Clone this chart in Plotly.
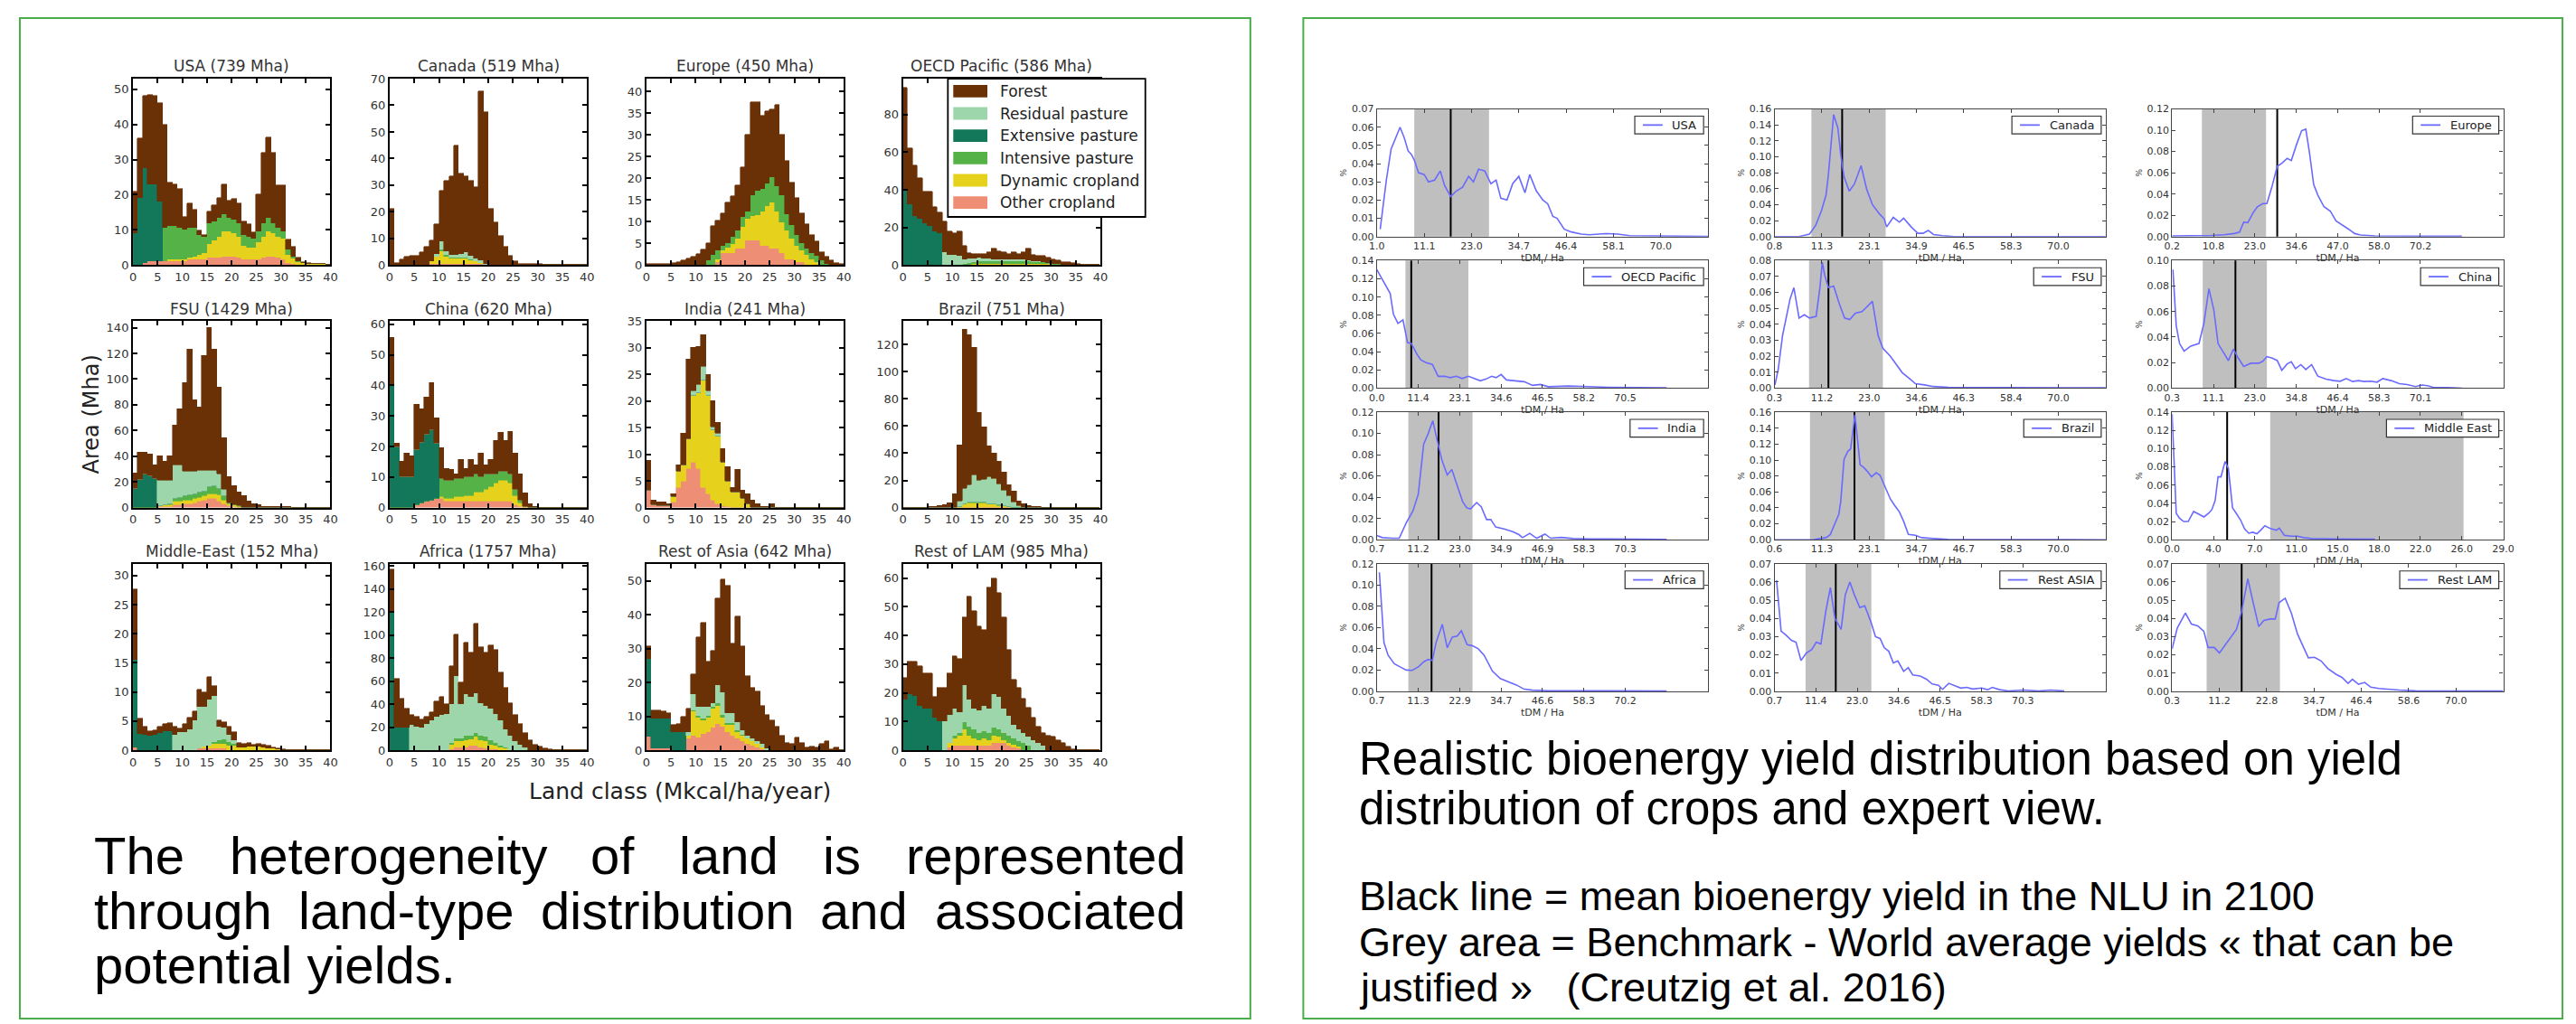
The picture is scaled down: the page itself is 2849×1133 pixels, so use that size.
import plotly.graph_objects as go

W, H = 2849, 1133


def pad(start, vals, n=40):
    out = [0.0] * start + list(vals)
    return (out + [0.0] * n)[:n]


# ------------------------------------------------------------------
# LEFT PANEL DATA : area (Mha) per land class (1 Mkcal/ha/year bins)
# ------------------------------------------------------------------
land_classes = list(range(40))  # lower edge of each class
left_titles = ["USA (739 Mha)", "Canada (519 Mha)", "Europe (450 Mha)", "OECD Pacific (586 Mha)",
               "FSU (1429 Mha)", "China (620 Mha)", "India (241 Mha)", "Brazil (751 Mha)",
               "Middle-East (152 Mha)", "Africa (1757 Mha)", "Rest of Asia (642 Mha)", "Rest of LAM (985 Mha)"]
left_ymax = [53, 70, 43, 99, 145, 61, 35, 137, 32, 162, 55, 65]
left_ydtick = [10, 10, 5, 20, 20, 10, 5, 20, 5, 20, 10, 10]
left_xticks = [0, 5, 10, 15, 20, 25, 30, 35, 40]

category_names = ["Forest", "Residual pasture", "Extensive pasture",
                  "Intensive pasture", "Dynamic cropland", "Other cropland"]
category_colors = ["#6b3106", "#9dd6ab", "#13775a", "#55b246", "#e6d21c", "#ee8f75"]

# totals (top of the stack) and the lower land types; forest = remainder
usa_total = [21, 36, 48, 48.5, 48, 46, 40, 23.4, 23, 21.7, 13.6, 17.6, 15.8, 9.8, 8.5, 15.3, 17, 19.2, 23, 18.3,
             18.7, 17.5, 12.4, 11.5, 9.4, 20, 32, 36.2, 32, 22.6, 22.6, 7.2, 5.1, 2.1, 0.9, 0.6, 0.4, 0.4, 0.4, 0]
usa_residual = pad(0, [])
usa_extensive = pad(0, [9, 19, 27, 22, 22, 17])
usa_intensive = pad(6, [9.5, 9.5, 9.5, 9, 8.5, 8.5, 8, 5.5, 4.5, 6, 5.5, 5.5, 5, 4, 4, 4, 3, 3, 2.5, 3, 4, 4, 3,
                        2.5, 2, 1.5, 0.5, 0.3])
usa_dynamic = pad(7, [0.5, 0.5, 0.5, 0.5, 0.5, 1, 1.5, 2, 4, 5, 6, 7, 7, 6.5, 6, 4, 3.5, 3.5, 5, 6, 7, 6.5, 6, 6,
                      2.5, 1.5, 0.8, 0.5, 0.3, 0.2, 0.2, 0.2])
usa_other = pad(2, [0.5, 1, 1, 1, 1, 1, 1, 1, 1, 1.5, 1.5, 1.5, 1.5, 2, 2, 2, 2.5, 2.5, 2.5, 2, 1.5, 1.5, 1.5, 1.5,
                    2, 2.5, 2.5, 2, 1.5, 0.5, 0.3])

canada_total = [21, 0.8, 2, 3, 3.6, 3.6, 4.7, 7, 9.2, 15.4, 27.8, 31.7, 33.4, 45, 34.5, 33.4, 31.7, 29.4, 65.4, 57.5,
                21, 16, 10.9, 7, 3.6, 1.3, 0.5, 0.5, 0.5, 0.5, 0.5, 0.2, 0.2, 0.2, 0.2, 0.1, 0.1, 0.1, 0.1, 0.1]
canada_residual = pad(9, [1, 3, 1.5, 1, 1, 1.5, 2, 1.5, 1, 1, 0.5])
canada_extensive = pad(0, [])
canada_intensive = pad(10, [0.5, 0.5, 0.5, 0.5, 0.5, 0.5, 0.3])
canada_dynamic = pad(8, [1, 3, 5, 3, 2, 2, 2, 2, 1.5, 1, 0.5])
canada_other = pad(8, [0.3, 0.3, 0.3, 0.3, 0.3, 0.3, 0.3, 0.3, 0.3, 0.3, 0.3])

europe_total = [0.3, 0.3, 0.3, 0.3, 0.3, 0.5, 0.7, 1, 1.5, 2, 2.5, 3.5, 5, 9, 10.3, 12, 14.5, 16, 18.5, 22.5,
                30, 37.5, 37.5, 34.5, 35.5, 36, 37, 30, 24, 19, 15.5, 12, 9.5, 7, 5.5, 3, 2, 1, 0.5, 0.3]
europe_residual = pad(0, [])
europe_extensive = pad(0, [])
europe_intensive = pad(12, [1, 2.4, 2.0, 1.1, 1.1, 1.7, 1.7, 2.1, 1.7, 4.8, 5.6, 5.2, 5.2, 5.8, 5.9, 6.2, 3.8, 3.1,
                            2.4, 1.7, 1.4, 1.3, 1.4, 1, 0.3])
europe_dynamic = pad(14, [0.7, 0.7, 1.3, 2.1, 2.4, 5.1, 4.9, 5.6, 5.8, 7.8, 9.2, 10.6, 8.5, 7.2, 6.5, 4.8, 3.8, 2.7,
                          2.4, 1.4, 0.7])
europe_other = pad(14, [0.7, 2.7, 2.7, 2.7, 3.8, 3.8, 5.7, 5.7, 5.7, 4.5, 4.5, 3.8, 3.8, 2.7, 1.4, 1.4, 0.7, 0.7])

oecd_total = [94.4, 62, 53, 46, 39, 39, 31, 28, 23, 18, 16.7, 18, 10.3, 6.3, 5.9, 5.9, 5.9, 6.8, 8.7, 7.5,
              6.8, 5.9, 6.8, 5.9, 6.8, 8.7, 5.6, 4.8, 4.8, 4, 3.2, 2.4, 1.6, 1.6, 1.1, 0.8, 0.3, 0.3, 0.3, 0.3]
oecd_residual = pad(8, [7, 5.6, 5.6, 4.8, 2.4, 2.4, 2, 2, 1.5, 1.5, 1, 1, 1, 1, 1, 1, 1, 0.8, 0.5, 0.5])
oecd_extensive = pad(0, [39.7, 32.5, 26, 24.6, 22, 20.6, 18, 16.7])
oecd_intensive = pad(12, [0.5, 0.8, 1, 1.2, 1.2, 1.2, 1.5, 1.5, 1.5, 1.5, 1.5, 1.5, 1.5, 1.2, 1, 1, 0.8, 0.6, 0.4,
                          0.3])
oecd_dynamic = pad(14, [0.3] * 16)
oecd_other = pad(12, [0.3] * 20)

fsu_total = [27, 43, 43, 42, 33, 40, 36, 40, 64, 77, 97, 123, 84, 78, 118, 140, 123, 94, 54, 24,
             17, 12, 9, 5, 3, 2, 1.2, 1.2, 1.2, 0.6, 0.6, 0.6, 0.2, 0.2, 0.2, 0.2, 0.2, 0.2, 0.2, 0.2]
fsu_residual = pad(5, [19.5, 19, 18, 26, 25, 19, 18, 17, 17, 16, 13, 12, 11, 5])
fsu_extensive = pad(0, [15, 22, 26, 25, 22])
fsu_intensive = pad(7, [1, 2, 3, 3, 4, 4, 4, 4, 5, 6, 5, 3, 1, 0.5, 0.5])
fsu_dynamic = pad(5, [0.5, 1, 1, 3, 3, 3, 3, 3, 3, 3, 4, 4, 5, 3, 1.5, 1, 0.5])
fsu_other = pad(4, [0.5, 1, 1, 1, 2, 2, 3, 3, 4, 5, 6, 7, 7, 5, 3, 1.5, 1, 0.5])

china_total = [55.6, 21.2, 15.3, 17.8, 16.8, 33.8, 32.3, 36.2, 41, 29.4, 19.7, 12.9, 12.4, 11, 15.8, 12.9, 15.8,
               13.9, 17.8, 13.9, 15.8, 22.1, 24.6, 22.1, 25, 17.8, 11, 4.7, 1.3, 0.5,
               0.1, 0.1, 0.1, 0.1, 0.1, 0.1, 0.1, 0.1, 0.1, 0.1]
china_residual = pad(0, [])
china_extensive = pad(0, [40, 20, 10, 10, 10, 18, 20, 22, 23, 18])
china_intensive = pad(10, [6, 6, 6, 6, 6, 6, 6, 6, 5, 5, 4, 3, 3, 3, 3, 2, 1])
china_dynamic = pad(10, [0.5, 1, 1, 1.5, 1.5, 2, 2, 3, 3, 4, 5, 6, 7, 7, 6, 3, 1, 0.5])
china_other = pad(5, [1, 1.5, 2, 2.5, 3, 3, 2, 2, 2, 2, 2, 2, 2, 2, 2, 2, 2, 2, 2, 2, 1, 0.5])

india_total = pad(0, [8.9, 1.4, 1.1, 1.1, 0.8, 2.6, 8, 14, 27.9, 30, 30.3, 32.5, 25, 20, 16, 11, 7.6, 3.8, 7.2,
                      3.2, 2.6, 1.4, 0.8, 0.2, 0.2, 0.8])
india_residual = pad(9, [1, 1.5, 2.5, 1, 0.5, 0.5])
india_extensive = pad(0, [])
india_intensive = pad(0, [])
india_dynamic = pad(5, [1, 3, 3, 5.6, 12.4, 14.2, 20.2, 18.4, 13.2, 12.6, 8.2, 4.8, 3, 2.9, 1.7, 0.8])
india_other = pad(0, [3.2, 0.5, 0.3, 0.3, 0.3, 1, 3.8, 5, 7.4, 8.6, 7.4, 3.8, 2.6, 1.4, 0.8, 0.4, 0.2])

brazil_total = [0.4, 0.4, 0.4, 0.4, 0.4, 0.7, 1, 1.3, 2, 3.5, 10, 46, 131, 127, 118, 70, 59, 45, 40, 34,
                26, 17, 12, 5, 2.5, 1.5, 0.8, 0.5, 0.2, 0.2, 0.2, 0.2, 0.2, 0.2, 0.2, 0.2, 0.2, 0.2, 0.2, 0.2]
brazil_residual = pad(11, [3.9, 10.8, 12.9, 20, 15.9, 16.7, 19.5, 18.5, 15.7, 11.2, 7.5, 3.6, 1.5])
brazil_extensive = pad(0, [])
brazil_intensive = pad(11, [0.3, 0.5, 0.5, 0.5, 0.5, 0.5, 0.5, 0.5, 0.5, 0.3, 0.3])
brazil_dynamic = pad(11, [0.5, 2.2, 3.3, 3.3, 3.3, 3.3, 2.2, 2.2, 1.2, 1.2, 0.5])
brazil_other = pad(11, [0.3] * 12)

me_total = pad(0, [27.7, 5.4, 4.1, 3.3, 3.5, 4.1, 4.6, 4.7, 4.1, 3.8, 4.6, 5.6, 6.7, 10.5, 10, 12.6, 11, 5.1, 4.9,
                   4.1, 3.1, 1.3, 1.1, 1.3, 1, 1.1, 1, 0.8, 0.5, 0.3, 0.2, 0.1])
me_residual = pad(8, [2.6, 3.1, 3.1, 3.6, 5.1, 7.2, 6.9, 7.9, 7.9, 2.4, 2.0, 1.3, 0.7])
me_extensive = pad(0, [15, 2.8, 2.6, 2.5, 2.7, 3, 3.3, 3.3])
me_intensive = pad(16, [0.3, 0.6, 0.8, 0.6, 0.3])
me_dynamic = pad(14, [0.3, 0.5, 0.8, 0.8, 0.8, 0.8, 0.8, 0.5, 0.5, 0.6, 0.6, 0.6, 0.5, 0.4, 0.3, 0.2, 0.1])
me_other = pad(0, [0.5, 0, 0, 0, 0, 0, 0, 0, 0, 0, 0, 0, 0, 0.3, 0.3, 0.3, 0.3, 0.3, 0.3])

africa_total = [157, 62, 45, 36, 31, 29, 27, 29, 33.5, 42.6, 46.5, 40, 73.5, 100.6, 59, 94, 85, 110, 90, 85,
                91.6, 87.7, 68, 54, 41, 31, 23, 15.5, 9, 5.2, 3, 2, 1.3, 0.5, 0.2, 0.2, 0.2, 0.2, 0.2, 0.2]
africa_residual = pad(4, [21.5, 20.1, 19.5, 22.5, 25.3, 28.5, 30.5, 31.5, 33.5, 54.2, 29.7, 36, 33.5, 34.5, 28,
                          27.1, 27, 25.5, 21.9, 15.4, 12.5, 7.7, 5.2, 2.6])
africa_extensive = pad(0, [120, 20, 20, 20])
africa_intensive = pad(12, [1.3, 2.6, 2.6, 4, 3.5, 3.9, 4, 3.9, 3.8, 2.6, 1.3, 1.1])
africa_dynamic = pad(4, [0.5, 0.5, 0.5, 0.5, 0.5, 0.5, 0.5, 0.5, 4.2, 5.1, 5.1, 6.4, 5.6, 7.7, 6.4, 5.7, 3.9, 3.1,
                         2.1, 1.5, 0.5])
africa_other = pad(12, [1, 2.6, 2.6, 2.6, 3.9, 3.9, 2.6, 2, 1.3, 0.8, 0.5])

rasia_total = [30.7, 11.8, 11.8, 11.4, 11, 7.5, 7.9, 10, 12.3, 22.4, 33.3, 37.7, 26.3, 29.4, 45, 50.4, 48.7, 31.6,
               39.5, 30.7, 21.9, 18.4, 17.5, 13.2, 10.5, 8.8, 7, 4.4, 2.2, 1.8, 3.9, 2.2, 0.9, 1, 0.9, 1.8, 2.6,
               0.4, 0.9, 0]
rasia_residual = pad(8, [0.9, 4.8, 2.7, 3.5, 2.7, 1, 5.2, 6.6, 3, 3, 2.6, 1.3, 0.9, 0.9, 0.8, 0.9, 0.5])
rasia_extensive = pad(0, [23, 9, 9, 9, 9, 5.3, 5.3, 5.3])
rasia_intensive = pad(9, [0.5, 0.5, 0.5, 0.5, 0.5, 0.8, 0.8, 0.5, 0.5, 0.5, 0.3])
rasia_dynamic = pad(8, [0.9, 7, 5.7, 4, 4.3, 5.7, 5.3, 2.6, 2.2, 3.1, 1.8, 1.8, 1.7, 1.3, 0.9, 0.5])
rasia_other = pad(0, [4, 0.5, 0.5, 0.5, 0.5, 0, 0, 0, 3.5, 4.4, 3.9, 4.8, 5.3, 6.6, 7.9, 7, 5.3, 4.4, 3.5, 2.6,
                      1.8, 1.3, 0.9, 0.4])

rlam_total = [25.3, 31, 31, 29.5, 26.9, 26.9, 18.6, 21.7, 21.7, 27, 33, 32, 46.5, 53.8, 48.6, 43.4, 41.9, 56.9,
              60, 54.8, 46.5, 35.2, 24.8, 21.7, 18.1, 15, 11.4, 8.3, 6.2, 5.2, 4.7, 3.6, 2.6, 1.2, 0.5,
              0.2, 0.2, 0.2, 0.2, 0.2]
rlam_residual = pad(8, [10.3, 9.8, 9.3, 7.2, 13, 9.3, 7.3, 7.8, 8.8, 8.3, 11.8, 11.4, 8.3, 6.7, 4.7, 4.1, 3.6,
                        3.1, 3.6, 2.6, 1.6])
rlam_extensive = pad(0, [17.6, 19.6, 19.1, 15.5, 14.5, 14.5, 11.4, 10.3])
rlam_intensive = pad(10, [1.1, 1, 2.6, 3.1, 3.1, 2.6, 2.6, 2.6, 2.6, 2.5, 2.6, 2.6, 2, 1.9, 2.6, 1.6])
rlam_dynamic = pad(9, [1.6, 2.5, 3.6, 5.6, 3.6, 2.5, 2, 2.5, 2, 2.6, 2.1, 1, 1, 1.1, 0.6])
rlam_other = pad(9, [1, 1.6, 1.6, 1.6, 1.6, 1.6, 1.6, 1.6, 1.6, 2.6, 2.6, 2.6, 1.6, 1, 0.6])

left_regions = [
    (usa_total, usa_residual, usa_extensive, usa_intensive, usa_dynamic, usa_other),
    (canada_total, canada_residual, canada_extensive, canada_intensive, canada_dynamic, canada_other),
    (europe_total, europe_residual, europe_extensive, europe_intensive, europe_dynamic, europe_other),
    (oecd_total, oecd_residual, oecd_extensive, oecd_intensive, oecd_dynamic, oecd_other),
    (fsu_total, fsu_residual, fsu_extensive, fsu_intensive, fsu_dynamic, fsu_other),
    (china_total, china_residual, china_extensive, china_intensive, china_dynamic, china_other),
    (india_total, india_residual, india_extensive, india_intensive, india_dynamic, india_other),
    (brazil_total, brazil_residual, brazil_extensive, brazil_intensive, brazil_dynamic, brazil_other),
    (me_total, me_residual, me_extensive, me_intensive, me_dynamic, me_other),
    (africa_total, africa_residual, africa_extensive, africa_intensive, africa_dynamic, africa_other),
    (rasia_total, rasia_residual, rasia_extensive, rasia_intensive, rasia_dynamic, rasia_other),
    (rlam_total, rlam_residual, rlam_extensive, rlam_intensive, rlam_dynamic, rlam_other),
]

# ------------------------------------------------------------------
# RIGHT PANEL DATA : yield distributions (x = position in bins, 10 bins per tick)
# ------------------------------------------------------------------
right_names = ["USA", "Canada", "Europe", "OECD Pacific", "FSU", "China",
               "India", "Brazil", "Middle East", "Africa", "Rest ASIA", "Rest LAM"]
right_xmax = [70, 70, 80, 80, 70, 80, 80, 70, 80, 80, 80, 70]
right_ymax = [0.07, 0.16, 0.12, 0.14, 0.08, 0.10, 0.12, 0.16, 0.14, 0.12, 0.07, 0.07]
right_ydtick = [0.01, 0.02, 0.02, 0.02, 0.01, 0.02, 0.02, 0.02, 0.02, 0.02, 0.01, 0.01]
right_xlabels = [
    ["1.0", "11.1", "23.0", "34.7", "46.4", "58.1", "70.0"],
    ["0.8", "11.3", "23.1", "34.9", "46.5", "58.3", "70.0"],
    ["0.2", "10.8", "23.0", "34.6", "47.0", "58.0", "70.2"],
    ["0.0", "11.4", "23.1", "34.6", "46.5", "58.2", "70.5"],
    ["0.3", "11.2", "23.0", "34.6", "46.3", "58.4", "70.0"],
    ["0.3", "11.1", "23.0", "34.8", "46.4", "58.3", "70.1"],
    ["0.7", "11.2", "23.0", "34.9", "46.9", "58.3", "70.3"],
    ["0.6", "11.3", "23.1", "34.7", "46.7", "58.3", "70.0"],
    ["0.0", "4.0", "7.0", "11.0", "15.0", "18.0", "22.0", "26.0", "29.0"],
    ["0.7", "11.3", "22.9", "34.7", "46.6", "58.3", "70.2"],
    ["0.7", "11.4", "23.0", "34.6", "46.5", "58.3", "70.3"],
    ["0.3", "11.2", "22.8", "34.7", "46.4", "58.6", "70.0"],
]
grey_lo = [7.9, 7.8, 7.2, 6.9, 7.3, 7.4, 7.6, 7.5, 23.7, 7.6, 7.5, 7.3]
grey_hi = [23.7, 23.5, 22.7, 22.1, 22.9, 22.9, 23.1, 23.3, 70.4, 23.1, 23.4, 22.8]
mean_yield = [15.6, 14.3, 25.4, 8.3, 11.4, 15.3, 14.9, 16.9, 13.3, 13.2, 14.8, 14.7]

usa_x = [0.7, 2.0, 3.0, 3.9, 4.9, 5.8, 6.6, 7.3, 7.9, 8.8, 10.0, 10.9, 12.2, 13.4, 14.3, 15.6, 16.8, 18.1, 19.4,
         20.4, 21.5, 22.8, 24.1, 25.2, 26.2, 27.5, 28.7, 30.0, 31.3, 32.3, 33.7, 35.1, 36.1, 37.2, 38.1, 39.6,
         41.1, 43.2, 44.9, 48.3, 50.9, 53.4, 61.9, 70]
usa_y = [0.004, 0.031, 0.048, 0.054, 0.060, 0.054, 0.047, 0.045, 0.042, 0.035, 0.034, 0.030, 0.031, 0.036, 0.028,
         0.022, 0.025, 0.027, 0.033, 0.030, 0.037, 0.036, 0.029, 0.031, 0.021, 0.020, 0.029, 0.033, 0.024, 0.034,
         0.025, 0.020, 0.018, 0.011, 0.010, 0.004, 0.0025, 0.0013, 0.001, 0.0016, 0.0013, 0.0005, 0.0003, 0.0001]
canada_x = [0, 5.2, 7.4, 8.7, 9.9, 10.9, 11.4, 11.8, 12.5, 13.4, 14.0, 14.7, 15.8, 16.9, 18.3, 19.5, 20.7, 22.1,
            23.2, 23.7, 25.1, 26.4, 27.3, 28.9, 30.3, 31.4, 32.5, 33.6, 35.5, 38.1, 70]
canada_y = [0, 0, 0.003, 0.014, 0.032, 0.052, 0.078, 0.103, 0.153, 0.136, 0.103, 0.075, 0.057, 0.066, 0.089,
            0.059, 0.040, 0.029, 0.022, 0.012, 0.024, 0.018, 0.023, 0.012, 0.004, 0.004, 0.0076, 0.0025, 0.001,
            0, 0]
europe_x = [0, 4.7, 9.6, 12.6, 15.0, 16.3, 17.3, 18.3, 19.5, 20.6, 21.9, 22.9, 24.2, 25.4, 26.5, 27.8, 28.8,
            30.1, 31.3, 32.3, 33.2, 34.2, 35.2, 36.7, 38.2, 39.6, 41.1, 42.6, 44.1, 45.5, 49.0, 58.8, 70]
europe_y = [0.0006, 0.0006, 0.001, 0.0017, 0.0028, 0.0042, 0.0135, 0.013, 0.022, 0.028, 0.031, 0.031, 0.048,
            0.066, 0.069, 0.0735, 0.0715, 0.087, 0.0996, 0.101, 0.0785, 0.049, 0.039, 0.028, 0.024, 0.0146,
            0.011, 0.007, 0.0028, 0.0014, 0.0006, 0.0003, 0.0003]
oecd_x = [0, 1.0, 2.2, 3.2, 4.0, 5.1, 6.3, 7.4, 8.3, 9.0, 9.7, 10.6, 11.9, 13.4, 14.8, 16.3, 17.7, 19.2, 20.6,
          22.1, 23.5, 25.0, 26.4, 27.7, 28.8, 30.0, 31.3, 33.2, 35.6, 37.6, 39.5, 41.4, 46.3, 51.1, 56.0, 70]
oecd_y = [0.130, 0.122, 0.112, 0.104, 0.081, 0.071, 0.075, 0.050, 0.049, 0.043, 0.037, 0.031, 0.028, 0.026,
          0.013, 0.013, 0.0115, 0.013, 0.0105, 0.013, 0.0105, 0.008, 0.010, 0.013, 0.0115, 0.015, 0.009, 0.008,
          0.007, 0.003, 0.004, 0.0016, 0.0023, 0.0016, 0.001, 0.0003]
fsu_x = [0.1, 0.8, 1.7, 2.7, 3.3, 4.1, 5.2, 6.3, 7.4, 8.8, 9.6, 10.1, 10.6, 11.4, 12.5, 13.7, 14.8, 15.9, 17.1,
         18.5, 19.6, 20.7, 21.9, 22.9, 24.5, 25.7, 27.0, 28.3, 29.8, 31.7, 33.6, 36.8, 70]
fsu_y = [0.002, 0.012, 0.033, 0.047, 0.056, 0.063, 0.044, 0.046, 0.044, 0.045, 0.063, 0.079, 0.071, 0.063, 0.064,
         0.053, 0.044, 0.043, 0.047, 0.048, 0.051, 0.0545, 0.033, 0.025, 0.020, 0.0148, 0.0097, 0.0066, 0.0028,
         0.002, 0.001, 0.0005, 0.0002]
china_x = [0.2, 1.0, 1.8, 2.9, 4.5, 6.5, 7.7, 8.9, 10.1, 11.1, 12.4, 13.6, 14.8, 16.0, 17.3, 19.0, 20.9, 21.9,
           22.9, 24.2, 25.4, 26.5, 27.8, 28.8, 29.8, 31.1, 32.3, 33.7, 35.2, 37.2, 39.1, 40.6, 42.1, 43.6, 45.0,
           46.5, 48.0, 49.5, 50.9, 52.9, 54.9, 56.8, 58.8, 60.3, 61.7, 63.2, 66.7, 70.1]
china_y = [0.093, 0.049, 0.035, 0.029, 0.033, 0.035, 0.051, 0.078, 0.061, 0.035, 0.028, 0.0216, 0.0306, 0.0235,
           0.017, 0.0195, 0.0195, 0.021, 0.0247, 0.0235, 0.0216, 0.014, 0.019, 0.0207, 0.0153, 0.0184, 0.0146,
           0.0184, 0.0094, 0.007, 0.0059, 0.0054, 0.0075, 0.0052, 0.0059, 0.0052, 0.0054, 0.0047, 0.0075,
           0.0059, 0.0035, 0.0028, 0.0012, 0.0024, 0.0019, 0.0005, 0.0005, 0]
india_x = [0, 1.3, 3.7, 5.4, 7.1, 8.7, 10.0, 11.3, 12.4, 13.5, 14.6, 15.7, 17.0, 18.1, 19.4, 20.7, 21.7, 22.6,
           24.1, 25.2, 26.5, 27.5, 28.7, 30.9, 32.8, 34.3, 35.2, 36.9, 38.6, 40.6, 42.0, 44.5, 47.4, 51.3, 70]
india_y = [0.004, 0.002, 0.0014, 0.0014, 0.016, 0.027, 0.043, 0.090, 0.100, 0.112, 0.093, 0.075, 0.061, 0.066,
           0.051, 0.036, 0.030, 0.029, 0.035, 0.031, 0.019, 0.019, 0.012, 0.010, 0.0076, 0.0048, 0.002, 0.006,
           0.0014, 0.0053, 0.0014, 0.0022, 0.0011, 0.0008, 0.0003]
brazil_x = [0, 8.3, 9.6, 10.9, 11.8, 12.6, 13.6, 14.0, 14.7, 15.5, 16.1, 17.0, 17.5, 18.1, 18.8, 19.6, 20.5,
            21.5, 22.3, 22.9, 23.8, 24.5, 25.4, 26.4, 27.3, 28.3, 29.8, 31.1, 33.6, 36.8, 70]
brazil_y = [0, 0.0001, 0.0015, 0.0026, 0.0066, 0.017, 0.032, 0.048, 0.101, 0.111, 0.114, 0.157, 0.129, 0.094,
            0.091, 0.086, 0.079, 0.084, 0.081, 0.073, 0.060, 0.051, 0.043, 0.035, 0.023, 0.0066, 0.0056, 0.0026,
            0.0015, 0.0005, 0]
me_x = [0, 0.5, 1.0, 1.8, 2.8, 3.9, 5.2, 6.5, 7.7, 8.8, 9.6, 10.4, 11.1, 11.8, 12.8, 13.6, 14.6, 15.5, 16.5,
        17.5, 18.5, 19.5, 20.5, 21.4, 22.4, 23.9, 25.2, 25.9, 27.1, 28.8, 30.3, 31.8, 33.7, 39.1, 49.0]
me_y = [0.138, 0.083, 0.029, 0.0236, 0.020, 0.020, 0.031, 0.028, 0.025, 0.029, 0.033, 0.043, 0.069, 0.069, 0.086,
        0.078, 0.035, 0.029, 0.022, 0.012, 0.0072, 0.0082, 0.0066, 0.0105, 0.0154, 0.012, 0.0105, 0.0128,
        0.0049, 0.0039, 0.0039, 0.0023, 0.0013, 0.001, 0.0007]
africa_x = [0.6, 1.7, 2.7, 4.2, 5.6, 7.1, 8.5, 10.0, 11.4, 12.4, 13.4, 14.3, 15.8, 17.0, 18.2, 19.4, 20.4, 21.8,
            23.0, 24.5, 25.9, 27.9, 29.8, 31.8, 33.7, 35.6, 37.6, 41.4, 70]
africa_y = [0.112, 0.046, 0.034, 0.026, 0.023, 0.020, 0.0197, 0.023, 0.028, 0.030, 0.029, 0.046, 0.063, 0.041,
            0.051, 0.052, 0.057, 0.044, 0.043, 0.040, 0.034, 0.019, 0.012, 0.009, 0.006, 0.002, 0.0011, 0.0006,
            0.0003]
rasia_x = [0.5, 1.6, 2.7, 4.1, 5.2, 6.4, 7.7, 9.0, 10.1, 11.2, 12.4, 13.5, 14.6, 16.1, 17.1, 18.2, 19.3, 20.6,
           21.8, 23.3, 24.4, 25.5, 26.5, 27.6, 28.7, 29.8, 31.2, 32.3, 33.4, 35.2, 36.7, 38.1, 39.6, 40.6, 42.1,
           43.5, 45.0, 46.4, 47.9, 50.0, 51.5, 52.6, 54.4, 56.5, 60.2, 63.8, 66.7, 70]
rasia_y = [0.061, 0.033, 0.031, 0.028, 0.027, 0.017, 0.021, 0.023, 0.027, 0.026, 0.044, 0.057, 0.040, 0.034,
           0.053, 0.060, 0.053, 0.046, 0.047, 0.038, 0.030, 0.029, 0.024, 0.022, 0.0156, 0.0167, 0.011, 0.013,
           0.009, 0.0084, 0.0067, 0.004, 0.0033, 0.0011, 0.0044, 0.0033, 0.0018, 0.0022, 0.0013, 0.0018, 0.0009,
           0.0022, 0.0009, 0.0002, 0.0007, 0.0002, 0.0007, 0.0002]
rlam_x = [0, 1.1, 2.8, 4.1, 5.4, 6.7, 7.6, 8.9, 10.0, 11.5, 12.6, 13.6, 14.7, 16.0, 17.0, 18.3, 19.4, 20.7, 21.8,
          22.6, 23.9, 25.2, 26.5, 27.8, 28.8, 30.1, 31.5, 32.9, 34.7, 35.9, 37.2, 38.1, 39.4, 40.7, 42.0, 43.7,
          45.4, 48.0, 51.4, 70]
rlam_y = [0.0233, 0.0348, 0.043, 0.0369, 0.036, 0.033, 0.0241, 0.0241, 0.0211, 0.0266, 0.0307, 0.034, 0.0438,
          0.0618, 0.0503, 0.0356, 0.0389, 0.0397, 0.0397, 0.0487, 0.0511, 0.043, 0.0315, 0.0241, 0.0184, 0.0187,
          0.0167, 0.0126, 0.0093, 0.0077, 0.0044, 0.0066, 0.0039, 0.0049, 0.0023, 0.0016, 0.0011, 0.0007,
          0.0003, 0.0002]

right_series = [(usa_x, usa_y), (canada_x, canada_y), (europe_x, europe_y), (oecd_x, oecd_y),
                (fsu_x, fsu_y), (china_x, china_y), (india_x, india_y), (brazil_x, brazil_y),
                (me_x, me_y), (africa_x, africa_y), (rasia_x, rasia_y), (rlam_x, rlam_y)]

# ------------------------------------------------------------------
# TEXT
# ------------------------------------------------------------------
left_text_lines = ["The heterogeneity of land is represented",
                   "through land-type distribution and associated",
                   "potential yields."]
right_text_big = ["Realistic bioenergy yield distribution based on yield",
                  "distribution of crops and expert view."]
right_text_small = ["Black line = mean bioenergy yield in the NLU in 2100",
                    "Grey area = Benchmark - World average yields « that can be",
                    "justified »\u00a0\u00a0\u00a0(Creutzig et al. 2016)"]

# ------------------------------------------------------------------
# LAYOUT (pixel geometry)
# ------------------------------------------------------------------
def X(px):
    return px / W


def Y(py):
    return 1 - py / H


L_cols, L_w = [131, 417, 703, 989], 220
L_rows, L_h = [73, 345, 617], 209
R_cols, R_w = [1517, 1960, 2403], 369
R_rows, R_h = [107, 277, 447, 617], 143

CHART_FONT = "DejaVu Sans"
TEXT_FONT = "Liberation Sans, Arial, sans-serif"

fig = go.Figure()
layout = {}
shapes = []
annotations = []


def axname(k):
    return ("xaxis" if k == 1 else f"xaxis{k}"), ("yaxis" if k == 1 else f"yaxis{k}"), \
           ("x" if k == 1 else f"x{k}"), ("y" if k == 1 else f"y{k}")


centers = [c + 0.5 for c in land_classes]

for i, reg in enumerate(left_regions):
    k = i + 1
    xa, ya, xr, yr = axname(k)
    r, c = divmod(i, 4)
    x0, y0 = L_cols[c], L_rows[r]
    total, residual, extensive, intensive, dynamic, other = reg
    forest = [max(t - (a + b + cc + d + e), 0) for t, a, b, cc, d, e in
              zip(total, residual, extensive, intensive, dynamic, other)]
    stack = [(other, 5), (dynamic, 4), (intensive, 3), (extensive, 2), (residual, 1), (forest, 0)]
    for vals, ci in stack:
        fig.add_trace(go.Bar(x=centers, y=vals, width=1, xaxis=xr, yaxis=yr,
                             marker=dict(color=category_colors[ci],
                                         line=dict(color=category_colors[ci], width=0.6)),
                             name=category_names[ci], showlegend=False, hoverinfo="skip"))
    ymax, dt = left_ymax[i], left_ydtick[i]
    yt = list(range(0, int(ymax) + 1, dt))
    layout[xa] = dict(domain=[X(x0), X(x0 + L_w)], anchor=yr, range=[0, 40], tickvals=left_xticks,
                      ticks="inside", ticklen=5, tickwidth=1.5, tickcolor="black", showline=True,
                      linecolor="black", linewidth=2, mirror="ticks", showgrid=False, zeroline=False,
                      tickfont=dict(family=CHART_FONT, size=13, color="#333"), fixedrange=True)
    layout[ya] = dict(domain=[Y(y0 + L_h), Y(y0)], anchor=xr, range=[0, ymax], tickvals=yt,
                      ticks="inside", ticklen=5, tickwidth=1.5, tickcolor="black", showline=True,
                      linecolor="black", linewidth=2, mirror="ticks", showgrid=False, zeroline=False,
                      tickfont=dict(family=CHART_FONT, size=13, color="#333"), fixedrange=True)
    annotations.append(dict(text=left_titles[i], xref="paper", yref="paper", x=X(x0 + L_w / 2),
                            y=Y(y0 - 14), xanchor="center", yanchor="middle", showarrow=False,
                            font=dict(family=CHART_FONT, size=17, color="#333")))

# left legend (inside OECD Pacific panel)
lg_x0, lg_x1, lg_y0, lg_y1 = 1039, 1259, 73, 228
shapes.append(dict(type="rect", xref="paper", yref="paper", x0=X(lg_x0), x1=X(lg_x1), y0=Y(lg_y1),
                   y1=Y(lg_y0), fillcolor="white", line=dict(color="black", width=1.8), layer="above"))
for n, (nm, col) in enumerate(zip(category_names, category_colors)):
    cy = 87 + 25 * n
    shapes.append(dict(type="rect", xref="paper", yref="paper", x0=X(1045), x1=X(1083), y0=Y(cy + 7),
                       y1=Y(cy - 7), fillcolor=col, line=dict(width=0), layer="above"))
    annotations.append(dict(text=nm, xref="paper", yref="paper", x=X(1095), y=Y(cy), xanchor="left",
                            yanchor="middle", showarrow=False,
                            font=dict(family=CHART_FONT, size=17, color="#222")))

annotations.append(dict(text="Area (Mha)", xref="paper", yref="paper", x=X(85), y=Y(449), textangle=-90,
                        xanchor="center", yanchor="middle", showarrow=False,
                        font=dict(family=CHART_FONT, size=24, color="#222")))
annotations.append(dict(text="Land class (Mkcal/ha/year)", xref="paper", yref="paper", x=X(740), y=Y(872),
                        xanchor="center", yanchor="middle", showarrow=False,
                        font=dict(family=CHART_FONT, size=25, color="#222")))

# right panel
dv = {'A': .684, 'B': .686, 'C': .698, 'D': .770, 'E': .632, 'F': .575, 'I': .295, 'L': .557, 'M': .863,
      'O': .787, 'P': .603, 'R': .695, 'S': .635, 'U': .732, 'a': .613, 'c': .550, 'd': .635, 'e': .615,
      'f': .352, 'h': .634, 'i': .278, 'l': .278, 'n': .634, 'o': .612, 'p': .635, 'r': .411, 's': .521,
      't': .392, 'u': .634, 'z': .525, ' ': .318}


def dv_width(s, size):
    return sum(dv.get(ch, .6) for ch in s) * size


BLUE = "#6a6aff"
for j in range(12):
    k = 13 + j
    xa, ya, xr, yr = axname(k)
    r, c = divmod(j, 3)
    x0, y0 = R_cols[c], R_rows[r]
    xs, ys = right_series[j]
    n = min(len(xs), len(ys))
    fig.add_trace(go.Scatter(x=xs[:n], y=ys[:n], mode="lines", xaxis=xr, yaxis=yr,
                             line=dict(color=BLUE, width=1.6), name=right_names[j],
                             showlegend=False, hoverinfo="skip"))
    labels = right_xlabels[j]
    ymax, dt = right_ymax[j], right_ydtick[j]
    nt = int(round(ymax / dt))
    yt = [round(dt * t, 3) for t in range(nt + 1)]
    layout[xa] = dict(domain=[X(x0), X(x0 + R_w)], anchor=yr, range=[0, right_xmax[j]],
                      tickvals=[10 * t for t in range(len(labels))], ticktext=labels,
                      ticks="inside", ticklen=4, tickwidth=1, tickcolor="#444", showline=True,
                      linecolor="#444", linewidth=1.2, mirror="ticks", showgrid=False, zeroline=False,
                      tickfont=dict(family=CHART_FONT, size=11, color="#333"),
                      title=dict(text="tDM / Ha", standoff=2,
                                 font=dict(family=CHART_FONT, size=11, color="#333")),
                      fixedrange=True)
    layout[ya] = dict(domain=[Y(y0 + R_h), Y(y0)], anchor=xr, range=[0, ymax], tickvals=yt,
                      ticktext=[f"{v:.2f}" for v in yt],
                      ticks="inside", ticklen=4, tickwidth=1, tickcolor="#444", showline=True,
                      linecolor="#444", linewidth=1.2, mirror="ticks", showgrid=False, zeroline=False,
                      tickfont=dict(family=CHART_FONT, size=11, color="#333"),
                      title=dict(text="%", standoff=3, font=dict(family=CHART_FONT, size=9, color="#333")),
                      fixedrange=True)
    shapes.append(dict(type="rect", xref=xr, yref=f"{yr} domain", x0=grey_lo[j], x1=grey_hi[j], y0=0, y1=1,
                       fillcolor="#bfbfbf", line=dict(width=0), layer="below"))
    shapes.append(dict(type="line", xref=xr, yref=f"{yr} domain", x0=mean_yield[j], x1=mean_yield[j],
                       y0=0, y1=1, line=dict(color="black", width=2), layer="below"))
    # legend box
    name = right_names[j]
    bx1 = x0 + R_w - 5
    bw = dv_width(name, 13) + 50
    bx0 = bx1 - bw
    by0, by1 = y0 + 8, y0 + 28
    my = (by0 + by1) / 2
    shapes.append(dict(type="rect", xref="paper", yref="paper", x0=X(bx0), x1=X(bx1), y0=Y(by1), y1=Y(by0),
                       fillcolor="white", line=dict(color="#333", width=1.2), layer="above"))
    shapes.append(dict(type="line", xref="paper", yref="paper", x0=X(bx0 + 9), x1=X(bx0 + 31), y0=Y(my),
                       y1=Y(my), line=dict(color=BLUE, width=1.8), layer="above"))
    annotations.append(dict(text=name, xref="paper", yref="paper", x=X(bx1 - 6), y=Y(my), xanchor="right",
                            yanchor="middle", showarrow=False,
                            font=dict(family=CHART_FONT, size=13, color="#222")))

# green frames
GREEN = "#4aac4a"
shapes.append(dict(type="rect", xref="paper", yref="paper", x0=X(5), x1=X(1376), y0=Y(1127), y1=Y(5),
                   line=dict(color=GREEN, width=2), fillcolor="rgba(0,0,0,0)", layer="above"))
shapes.append(dict(type="rect", xref="paper", yref="paper", x0=X(1435), x1=X(2838), y0=Y(1127), y1=Y(5),
                   line=dict(color=GREEN, width=2), fillcolor="rgba(0,0,0,0)", layer="above"))

# bottom-left justified text
arial = {' ': 278, 'a': 556, 'b': 556, 'c': 500, 'd': 556, 'e': 556, 'f': 278, 'g': 556, 'h': 556, 'i': 222,
         'j': 222, 'k': 500, 'l': 222, 'm': 833, 'n': 556, 'o': 556, 'p': 556, 'q': 556, 'r': 333, 's': 500,
         't': 278, 'u': 556, 'v': 500, 'w': 722, 'x': 500, 'y': 500, 'z': 500, 'T': 611, '-': 333, '.': 278}


def arial_width(s, size):
    return sum(arial.get(ch, 556) for ch in s) / 1000 * size


LT_SIZE = 58
lt_x0, lt_x1 = 86, 1300
lt_centers = [944, 1006, 1067]
for li, line in enumerate(left_text_lines):
    words = line.split(" ")
    if li < 2:
        widths = [arial_width(w, LT_SIZE) for w in words]
        gap = (lt_x1 - lt_x0 - sum(widths)) / (len(words) - 1)
        pos = lt_x0
        for w, wd in zip(words, widths):
            annotations.append(dict(text=w, xref="paper", yref="paper", x=X(pos), y=Y(lt_centers[li]),
                                    xanchor="left", yanchor="middle", showarrow=False,
                                    font=dict(family=TEXT_FONT, size=LT_SIZE, color="black")))
            pos += wd + gap
    else:
        annotations.append(dict(text=line, xref="paper", yref="paper", x=X(lt_x0), y=Y(lt_centers[li]),
                                xanchor="left", yanchor="middle", showarrow=False,
                                font=dict(family=TEXT_FONT, size=LT_SIZE, color="black")))

rt_x0 = 1495
for line, cy in zip(right_text_big, [836, 891]):
    annotations.append(dict(text=line, xref="paper", yref="paper", x=X(rt_x0), y=Y(cy), xanchor="left",
                            yanchor="middle", showarrow=False,
                            font=dict(family=TEXT_FONT, size=51, color="black")))
for line, cy in zip(right_text_small, [990, 1041, 1092]):
    annotations.append(dict(text=line, xref="paper", yref="paper", x=X(rt_x0), y=Y(cy), xanchor="left",
                            yanchor="middle", showarrow=False,
                            font=dict(family=TEXT_FONT, size=45, color="black")))

fig.update_layout(**layout)
fig.update_layout(width=W, height=H, margin=dict(l=0, r=0, t=0, b=0), autosize=False,
                  paper_bgcolor="white", plot_bgcolor="white", barmode="stack", bargap=0,
                  showlegend=False, shapes=shapes, annotations=annotations,
                  font=dict(family=CHART_FONT))

fig.write_html("out.html")
